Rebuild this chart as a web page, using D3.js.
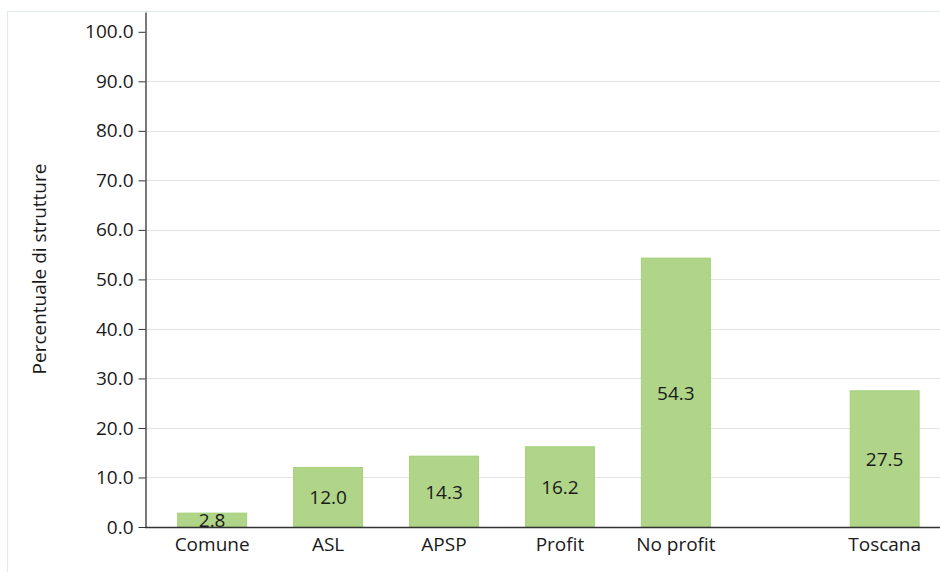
<!DOCTYPE html>
<html>
<head>
<meta charset="utf-8">
<script src="https://cdn.jsdelivr.net/npm/d3@7/dist/d3.min.js"></script>
<style>
  html, body { margin: 0; padding: 0; background: #fff; }
  svg { display: block; font-family: "Open Sans", "Noto Sans", sans-serif; }
</style>
</head>
<body>
<svg id="chart" width="940" height="572"></svg>
<script>
// Share of facilities by ownership type, with the regional total set apart
const categories = ["Comune", "ASL", "APSP", "Profit", "No profit"];
const values = [2.8, 12.0, 14.3, 16.2, 54.3];
const totalLabel = "Toscana";
const totalValue = 27.5;
const yTicks = [0, 10, 20, 30, 40, 50, 60, 70, 80, 90, 100];
const yTitle = "Percentuale di strutture";

const svg = d3.select("#chart");
const W = 940, H = 572;
const m = { left: 145, top: 12, bottom: 527 };
const fs = 19;

// panel frame
svg.append("path")
  .attr("d", `M7.5,${H} V11.5 H${W}`)
  .attr("fill", "none").attr("stroke", "#e3ebea").attr("stroke-width", 1.2);

const y = d3.scaleLinear().domain([0, 104]).range([m.bottom, m.top]);

// categorical x scale; the total bar sits after a gap
const step = 116;
const x = d3.scaleBand()
  .domain(categories)
  .range([m.left + 9, m.left + 9 + step * categories.length])
  .paddingInner(0.397).paddingOuter(0.2);
const xTotal = x(categories[categories.length - 1]) + step * 1.8;

const bars = categories.map((c, i) => ({ label: c, value: values[i], x0: x(c) }))
  .concat([{ label: totalLabel, value: totalValue, x0: xTotal }]);

// gridlines
svg.append("g").selectAll("line")
  .data(yTicks.filter(t => t > 0 && t < 100))
  .join("line")
  .attr("x1", m.left).attr("x2", W)
  .attr("y1", d => Math.round(y(d)) + 0.5).attr("y2", d => Math.round(y(d)) + 0.5)
  .attr("stroke", "#e4e4e4").attr("stroke-width", 1);

// bars
svg.append("g").selectAll("rect")
  .data(bars)
  .join("rect")
  .attr("x", d => d.x0 + 0.5)
  .attr("width", x.bandwidth() - 1)
  .attr("y", d => y(d.value))
  .attr("height", d => y(0) - y(d.value))
  .attr("fill", "#b0d588")
  .attr("stroke", "#a2d176")
  .attr("stroke-width", 1);

// value labels at bar mid-height
svg.append("g").selectAll("text")
  .data(bars)
  .join("text")
  .attr("x", d => d.x0 + x.bandwidth() / 2)
  .attr("y", d => (y(d.value) + y(0)) / 2)
  .attr("text-anchor", "middle")
  .attr("dominant-baseline", "central")
  .attr("font-size", fs)
  .attr("fill", "#1a1a1a")
  .text(d => d.value.toFixed(1));

// y axis
const yAxis = svg.append("g")
  .attr("transform", `translate(${m.left + 0.5},0)`)
  .call(d3.axisLeft(y).tickValues(yTicks).tickFormat(d3.format(".1f")).tickSize(7).tickSizeOuter(0));
yAxis.select(".domain").attr("stroke", "#333").attr("stroke-width", 1.3);
yAxis.selectAll(".tick line").attr("stroke", "#333");
yAxis.selectAll(".tick text")
  .attr("font-family", "'Open Sans', 'Noto Sans', sans-serif")
  .attr("font-size", fs).attr("fill", "#1a1a1a").attr("x", -12);

// x baseline
svg.append("line")
  .attr("x1", m.left).attr("x2", W)
  .attr("y1", m.bottom + 0.5).attr("y2", m.bottom + 0.5)
  .attr("stroke", "#333").attr("stroke-width", 1.3);

// x category labels
svg.append("g").selectAll("text")
  .data(bars)
  .join("text")
  .attr("x", d => d.x0 + x.bandwidth() / 2)
  .attr("y", m.bottom + 24)
  .attr("text-anchor", "middle")
  .attr("font-size", fs)
  .attr("fill", "#1a1a1a")
  .text(d => d.label);

// y title
svg.append("text")
  .attr("transform", `translate(46,${269}) rotate(-90)`)
  .attr("text-anchor", "middle")
  .attr("font-size", fs)
  .attr("fill", "#1a1a1a")
  .text(yTitle);
</script>
</body>
</html>
